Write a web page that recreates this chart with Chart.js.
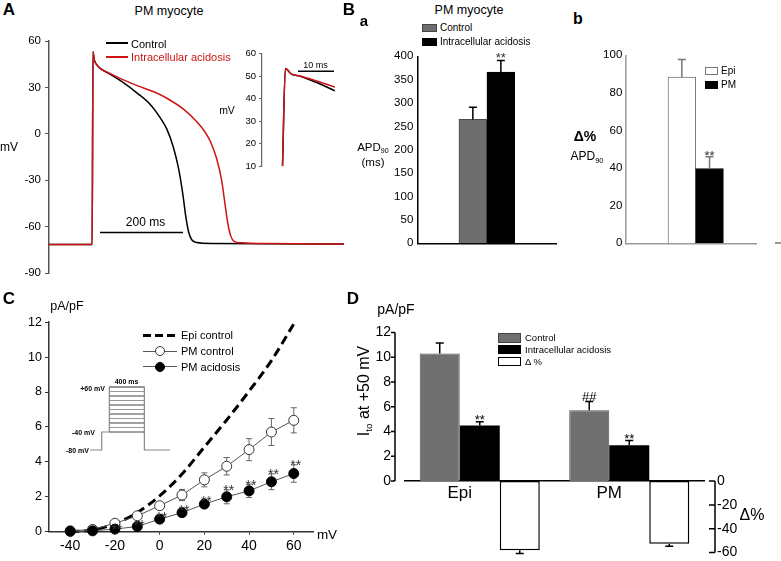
<!DOCTYPE html>
<html><head><meta charset="utf-8"><title>PM myocyte</title>
<script src="https://cdn.jsdelivr.net/npm/chart.js@4.4.1/dist/chart.umd.min.js"></script>
<style>
html,body{margin:0;padding:0;background:#fff;}
body{position:relative;width:781px;height:561px;overflow:hidden;font-family:"Liberation Sans",Arial,Helvetica,sans-serif;color:#000;}
canvas{position:absolute;}
.t{position:absolute;white-space:nowrap;line-height:1;}
.t sub{font-size:62%;vertical-align:baseline;position:relative;top:0.35em;}
.b{position:absolute;box-sizing:border-box;}
</style></head><body>
<script>
// ================= DATA =================
// Panel A: action potentials (time in ms from upstroke, membrane potential in mV)
const apCtrlTime = [-104, 0, 2, 5, 10, 18.5, 40, 70, 110, 140, 165, 180, 195, 208, 218, 226, 233, 240, 252, 290, 607];
const apCtrlVm   = [-71.5, -71.5, 53, 48, 45, 42.5, 39, 34, 26, 19, 10, 3, -8, -22, -38, -54, -64, -68.5, -70.3, -70.9, -71.2];
const apAcidTime = [-104, 0, 2, 5, 10, 18.5, 40, 70, 110, 150, 180, 220, 250, 270, 285, 300, 312, 320, 327, 334, 342, 360, 420, 607];
const apAcidVm   = [-71.5, -71.5, 53, 48, 45, 42.5, 39.3, 35.5, 31, 27, 23, 16, 8.5, 2, -5, -16, -30, -45, -58, -66, -69.5, -70.5, -71, -71.2];
const aTicks = [-90, -60, -30, 0, 30, 60];
const barATime = [19, 219];      // 200 ms scale bar
const barAVm = -63.8;
// Panel A inset (expanded time scale)
const insCtrlTime = [0, 0.8, 2.5, 4.9, 9.5, 14.6];
const insCtrlVm   = [10, 53.4, 50.9, 50.0, 47.2, 43.5];
const insAcidTime = [0, 0.8, 2.5, 4.9, 9.5, 14.6];
const insAcidVm   = [10, 53.4, 50.9, 50.1, 47.9, 45.2];
const insTicks = [10, 20, 30, 40, 50, 60];
const barInsTime = [4.3, 14.3];  // 10 ms scale bar
const barInsVm = 52.2;
// Panel Ba: APD90 (ms)
const apdGroups = ['Control', 'Intracellular acidosis'];
const apdMean = [265, 366];
const apdSem  = [26, 25];
const apdSig  = ['', '**'];
const apdTicks = [0, 50, 100, 150, 200, 250, 300, 350, 400];
// Panel Bb: delta% APD90
const dApdGroups = ['Epi', 'PM'];
const dApdMean = [88.4, 39.8];
const dApdSem  = [9.4, 6.2];
const dApdSig  = ['', '**'];
const dApdTicks = [0, 20, 40, 60, 80, 100];
// Panel C: I-V relation (mV, pA/pF)
const ivVoltage = [-40, -30, -20, -10, 0, 10, 20, 30, 40, 50, 60];
const epiCtrl   = [0, 0.1, 0.45, 1.1, 2.05, 3.3, 4.85, 6.4, 8.05, 9.8, 11.9];
const pmCtrl    = [0.05, 0.13, 0.48, 0.91, 1.49, 2.1, 2.97, 3.75, 4.7, 5.71, 6.38];
const pmCtrlSem = [0.05, 0.05, 0.08, 0.1, 0.15, 0.32, 0.4, 0.5, 0.63, 0.77, 0.72];
const pmAcid    = [0.02, 0.05, 0.15, 0.3, 0.72, 1.09, 1.58, 2.0, 2.34, 2.86, 3.33];
const pmAcidSem = [0.03, 0.03, 0.05, 0.08, 0.12, 0.15, 0.2, 0.4, 0.38, 0.45, 0.5];
const pmAcidSig = ['', '', '**', '**', '**', '**', '**', '**', '**', '**', '**'];
const ivXTicks = [-40, -20, 0, 20, 40, 60];
const ivYTicks = [0, 2, 4, 6, 8, 10, 12];
// Panel C inset: voltage protocol (ms, mV)
const protoOutlineT = [0, 134, 134, 221, 221, 621, 621, 914];
const protoOutlineV = [-80, -80, -40, -40, 60, 60, -80, -80];
const protoStepT = [221, 621];
const protoLevels = [-40, -30, -20, -10, 0, 10, 20, 30, 40, 50, 60];
// Panel D: Ito at +50 mV
const itoGroups = ['Epi', 'PM'];
const itoCtrl    = [10.3, 5.72];
const itoCtrlSem = [0.85, 0.7];
const itoCtrlSig = ['', '##'];
const itoAcid    = [4.48, 2.9];
const itoAcidSem = [0.3, 0.38];
const itoAcidSig = ['**', '**'];
const itoDelta    = [-58.1, -52.5];
const itoDeltaSem = [2.7, 2.2];
const itoTicks   = [0, 2, 4, 6, 8, 10, 12];
const deltaTicks = [0, -20, -40, -60];

// ================= HELPERS =================
const RED = '#cc1414';
const FONT = '"Liberation Sans", Arial, Helvetica, sans-serif';
Chart.defaults.font.family = FONT;
Chart.defaults.color = '#000';

function xy(xs, ys) { return xs.map((x, i) => ({x: x, y: Array.isArray(ys) ? ys[i] : ys})); }
function mk(left, top, w, h) {
  const c = document.createElement('canvas');
  c.width = w; c.height = h;
  c.style.left = left + 'px'; c.style.top = top + 'px';
  c.style.width = w + 'px'; c.style.height = h + 'px';
  document.body.appendChild(c);
  return c;
}
function txt(html, x, y, size, o) {
  o = o || {};
  const d = document.createElement('div');
  d.className = 't';
  d.innerHTML = html;
  d.style.fontSize = size + 'px';
  if (o.bold) d.style.fontWeight = 'bold';
  if (o.color) d.style.color = o.color;
  const ax = o.align === 'left' ? '0' : (o.align === 'right' ? '-100%' : '-50%');
  d.style.left = x + 'px'; d.style.top = y + 'px';
  d.style.transform = 'translate(' + ax + ',-50%)' + (o.rot ? ' rotate(' + o.rot + 'deg)' : '');
  document.body.appendChild(d);
}
function box(x, y, w, h, bg, border, extra) {
  const d = document.createElement('div');
  d.className = 'b';
  d.style.left = x + 'px'; d.style.top = y + 'px';
  d.style.width = w + 'px'; d.style.height = h + 'px';
  if (bg) d.style.background = bg;
  if (border) d.style.border = border;
  if (extra) Object.assign(d.style, extra);
  document.body.appendChild(d);
}
function fixed(arr) { return s => { s.ticks = arr.map(v => ({value: v})); }; }
function opts(pad, scales, plugins) {
  return {
    responsive: false, animation: false, events: [],
    layout: {padding: pad},
    scales: scales,
    plugins: Object.assign({legend: {display: false}, tooltip: {enabled: false}}, plugins || {})
  };
}

function drawErr(chart, o) {
  const ctx = chart.ctx;
  chart.data.datasets.forEach((ds, di) => {
    if (!ds.err) return;
    const meta = chart.getDatasetMeta(di);
    const ys = chart.scales[meta.yAxisID];
    ctx.save();
    ctx.strokeStyle = ds.errColor || o.color;
    ctx.lineWidth = o.width;
    ctx.beginPath();
    meta.data.forEach((el, i) => {
      const e = ds.err[i];
      if (!e) return;
      const raw = ds.data[i];
      const v = (typeof raw === 'object') ? raw.y : raw;
      const dir = v < 0 ? -1 : 1;
      const x = el.x;
      const yEnd = ys.getPixelForValue(v + dir * e);
      const yStart = o.both ? ys.getPixelForValue(v - dir * e) : ys.getPixelForValue(v);
      ctx.moveTo(x, yStart); ctx.lineTo(x, yEnd);
      ctx.moveTo(x - o.cap / 2, yEnd); ctx.lineTo(x + o.cap / 2, yEnd);
      if (o.both) { ctx.moveTo(x - o.cap / 2, yStart); ctx.lineTo(x + o.cap / 2, yStart); }
    });
    ctx.stroke();
    ctx.restore();
  });
}
const errPlugin = {
  id: 'errbars',
  defaults: {layer: 'after', both: false, cap: 8, color: '#000', width: 1.2},
  beforeDatasetsDraw(chart, a, o) { if (o.layer === 'before') drawErr(chart, o); },
  afterDatasetsDraw(chart, a, o) { if (o.layer !== 'before') drawErr(chart, o); }
};
const markPlugin = {
  id: 'marks',
  defaults: {size: 13, color: '#000', gap: 5},
  afterDatasetsDraw(chart, a, o) {
    const ctx = chart.ctx;
    chart.data.datasets.forEach((ds, di) => {
      if (!ds.marks) return;
      const meta = chart.getDatasetMeta(di);
      const ys = chart.scales[meta.yAxisID];
      ctx.save();
      ctx.fillStyle = o.color;
      ctx.font = o.size + 'px ' + FONT;
      ctx.textAlign = 'center';
      ctx.textBaseline = 'alphabetic';
      meta.data.forEach((el, i) => {
        const m = ds.marks[i];
        if (!m) return;
        const raw = ds.data[i];
        const v = (typeof raw === 'object') ? raw.y : raw;
        const e = ds.err ? (ds.err[i] || 0) : 0;
        const yc = ys.getPixelForValue(v + e) - o.gap;
        const yb = yc + (m.indexOf('#') >= 0 ? 0.36 : 0.6) * o.size;
        ctx.fillText(m, el.x + (o.dx || 0), yb);
      });
      ctx.restore();
    });
  }
};
const axisPlugin = {
  id: 'axisLines',
  afterDraw(chart, a, o) {
    if (!o || !o.lines) return;
    const ctx = chart.ctx;
    o.lines.forEach(L => {
      const s = chart.scales[L.scale];
      const x = (L.side === 'left' ? chart.chartArea.left : chart.chartArea.right) + L.offset;
      ctx.save();
      ctx.strokeStyle = L.color; ctx.lineWidth = L.width;
      ctx.beginPath();
      ctx.moveTo(x, s.getPixelForValue(L.from));
      ctx.lineTo(x, s.getPixelForValue(L.to));
      L.ticks.forEach(v => { const y = s.getPixelForValue(v); ctx.moveTo(x, y); ctx.lineTo(x + L.tick, y); });
      ctx.stroke();
      ctx.restore();
    });
  }
};
Chart.register(errPlugin, markPlugin, axisPlugin);

// ================= PANEL A =================
new Chart(mk(0, 30, 350, 255), {
  type: 'line',
  data: {datasets: [
    {label: 'Control', data: xy(apCtrlTime, apCtrlVm), borderColor: '#000', borderWidth: 1.5, pointRadius: 0, cubicInterpolationMode: 'monotone', order: 2},
    {label: 'Intracellular acidosis', data: xy(apAcidTime, apAcidVm), borderColor: RED, borderWidth: 1.5, pointRadius: 0, cubicInterpolationMode: 'monotone', order: 1},
    {label: '200 ms', data: xy(barATime, barAVm), borderColor: '#000', borderWidth: 1.5, pointRadius: 0, order: 0}
  ]},
  options: opts({top: 11, right: 6, bottom: 12, left: 0}, {
    x: {type: 'linear', display: false, min: -104, max: 607},
    y: {type: 'linear', min: -90, max: 60, afterFit: s => { s.width = 49; }, afterBuildTicks: fixed(aTicks),
        ticks: {font: {size: 11.5}, padding: 4, autoSkip: false},
        grid: {drawOnChartArea: false, drawTicks: true, tickLength: 4, color: '#555'},
        border: {color: '#555', width: 1.5}}
  })
});
// Inset
new Chart(mk(225, 45, 120, 130), {
  type: 'line',
  data: {datasets: [
    {data: xy(insCtrlTime, insCtrlVm), borderColor: '#000', borderWidth: 1.5, pointRadius: 0, cubicInterpolationMode: 'monotone', order: 2},
    {data: xy(insAcidTime, insAcidVm), borderColor: RED, borderWidth: 1.5, pointRadius: 0, cubicInterpolationMode: 'monotone', order: 1},
    {data: xy(barInsTime, barInsVm), borderColor: '#000', borderWidth: 1.3, pointRadius: 0, order: 0}
  ]},
  options: opts({top: 8, right: 10, bottom: 8, left: 0}, {
    x: {type: 'linear', display: false, min: -5.7, max: 14.6},
    y: {type: 'linear', position: 'left', display: true, min: 10, max: 60,
        afterFit: s => { s.width = 37; }, afterBuildTicks: fixed(insTicks),
        ticks: {display: true, font: {size: 9.5}, padding: 3, autoSkip: false, color: '#000'},
        grid: {display: true, drawOnChartArea: false, drawTicks: true, tickLength: 3, color: '#666'},
        border: {display: true, color: '#666', width: 1.2}}
  })
});

// ================= PANEL Ba =================
new Chart(mk(355, 45, 205, 210), {
  type: 'bar',
  data: {datasets: [
    {label: apdGroups[0] + ' / ' + apdGroups[1],
     data: apdMean.map((v, i) => ({x: i + 1, y: v})), err: apdSem, marks: apdSig,
     backgroundColor: ['#6e6e6e', '#000'], borderColor: ['#4a4a4a', '#000'], borderWidth: 1, barThickness: 27.8}
  ]},
  options: opts({top: 8.3, right: 3.3, bottom: 11.7, left: 0}, {
    x: {type: 'linear', min: -0.97, max: 3.995, offset: false, z: 1, afterFit: s => { s.height = 0; },
        ticks: {display: false}, grid: {display: false, drawTicks: false}, border: {display: true, color: '#000', width: 1.5}},
    y: {type: 'linear', min: 0, max: 400, afterFit: s => { s.width = 62.7; }, afterBuildTicks: fixed(apdTicks),
        ticks: {font: {size: 11.5}, padding: 4.4, autoSkip: false},
        grid: {display: false, drawTicks: false}, border: {color: '#000', width: 1.5}}
  }, {errbars: {cap: 8, color: '#000', width: 1.5}, marks: {size: 13, color: '#333', gap: 6}})
});

// ================= PANEL Bb =================
new Chart(mk(560, 45, 200, 210), {
  type: 'bar',
  data: {datasets: [
    {label: dApdGroups.join(' / '),
     data: dApdMean.map((v, i) => ({x: i + 1, y: v})), err: dApdSem, marks: dApdSig,
     backgroundColor: ['#fff', '#000'], borderColor: ['#777', '#000'], borderWidth: 1, barThickness: 27.7, errColor: '#777'}
  ]},
  options: opts({top: 8.3, right: 4, bottom: 11.7, left: 0}, {
    x: {type: 'linear', min: -1.027, max: 3.677, offset: false, z: 1, afterFit: s => { s.height = 0; },
        ticks: {display: false}, grid: {display: false, drawTicks: false}, border: {display: true, color: '#999', width: 1.5}},
    y: {type: 'linear', min: 0, max: 100, afterFit: s => { s.width = 65.7; }, afterBuildTicks: fixed(dApdTicks),
        ticks: {font: {size: 11.5}, padding: 3.4, autoSkip: false},
        grid: {display: false, drawTicks: false}, border: {color: '#999', width: 1.5}}
  }, {errbars: {cap: 8, color: '#777', width: 1.5}, marks: {size: 13, color: '#333', gap: 4.3}})
});

// ================= PANEL C =================
new Chart(mk(0, 300, 340, 261), {
  type: 'line',
  data: {datasets: [
    {label: 'Epi control', data: xy(ivVoltage, epiCtrl), borderColor: '#000', borderWidth: 3, borderDash: [9, 5], pointRadius: 0, cubicInterpolationMode: 'monotone', order: 3, clip: false},
    {label: 'PM control', data: xy(ivVoltage, pmCtrl), err: pmCtrlSem, borderColor: '#555', borderWidth: 1, pointRadius: 5, pointBackgroundColor: '#fff', pointBorderColor: '#333', pointBorderWidth: 1, order: 2, clip: false},
    {label: 'PM acidosis', data: xy(ivVoltage, pmAcid), err: pmAcidSem, marks: pmAcidSig, borderColor: '#555', borderWidth: 1, pointRadius: 5, pointBackgroundColor: '#000', pointBorderColor: '#000', pointBorderWidth: 1, order: 1, clip: false}
  ]},
  options: opts({top: 22.2, right: 27, bottom: 0, left: 0}, {
    x: {type: 'linear', min: -49.5, max: 68.6, afterFit: s => { s.height = 29.3; }, afterBuildTicks: fixed(ivXTicks),
        ticks: {font: {size: 14}, padding: 3, autoSkip: false},
        grid: {drawOnChartArea: false, drawTicks: true, tickLength: 3, color: '#333'}, border: {color: '#333', width: 1.5}},
    y: {type: 'linear', min: 0, max: 12, afterFit: s => { s.width = 49; }, afterBuildTicks: fixed(ivYTicks),
        ticks: {font: {size: 12.5}, padding: 3, autoSkip: false},
        grid: {drawOnChartArea: false, drawTicks: true, tickLength: 4, color: '#333'}, border: {color: '#333', width: 1.5}}
  }, {errbars: {layer: 'before', both: true, cap: 6, color: '#666', width: 1}, marks: {size: 14, color: '#333', gap: 3, dx: 2}})
});
// Protocol inset
(function () {
  const ds = [{data: xy(protoOutlineT, protoOutlineV), borderColor: '#888', borderWidth: 1.2, pointRadius: 0, clip: false}];
  protoLevels.forEach((lv, i) => ds.push({data: xy(protoStepT, lv), borderColor: i % 2 ? '#999' : '#444', borderWidth: 1, pointRadius: 0, clip: false}));
  new Chart(mk(86, 383, 88, 71), {
    type: 'line',
    data: {datasets: ds},
    options: opts({top: 4, right: 4, bottom: 4, left: 4}, {
      x: {type: 'linear', display: false, min: 0, max: 914},
      y: {type: 'linear', display: false, min: -80, max: 60}
    })
  });
})();

// ================= PANEL D =================
new Chart(mk(340, 310, 441, 265), {
  type: 'bar',
  data: {labels: itoGroups, datasets: [
    {label: 'Control', data: itoCtrl, err: itoCtrlSem, marks: itoCtrlSig, backgroundColor: '#707070', borderColor: '#555', borderWidth: 1, yAxisID: 'y'},
    {label: 'Intracellular acidosis', data: itoAcid, err: itoAcidSem, marks: itoAcidSig, backgroundColor: '#000', yAxisID: 'y'},
    {label: '\u0394%', data: itoDelta, err: itoDeltaSem, backgroundColor: '#fff', borderColor: '#000', borderWidth: 1.5, borderSkipped: false, yAxisID: 'y2'}
  ]},
  options: Object.assign(opts({top: 13.3, right: 0, bottom: 20.7, left: 0}, {
    x: {type: 'category', position: {y: 0}, z: 1, offset: true,
        ticks: {font: {size: 17}, padding: 2, labelOffset: -20, autoSkip: false},
        grid: {display: false, drawTicks: false}, border: {display: true, color: '#000', width: 1.5}},
    y: {type: 'linear', position: 'left', min: -5.769, max: 12, afterFit: s => { s.width = 65; }, afterBuildTicks: fixed(itoTicks),
        ticks: {font: {size: 14}, padding: 14, autoSkip: false}, grid: {display: false, drawTicks: false}, border: {display: false}},
    y2: {type: 'linear', position: 'right', min: -60, max: 124.8, afterFit: s => { s.width = 77; }, afterBuildTicks: fixed(deltaTicks),
        ticks: {font: {size: 14}, padding: 13, autoSkip: false}, grid: {display: false, drawTicks: false}, border: {display: false}}
  }, {
    errbars: {cap: 8, color: '#000', width: 1.5},
    marks: {size: 13, color: '#000', gap: 5.6},
    axisLines: {lines: [
      {scale: 'y', side: 'left', offset: -10, from: 0, to: 12, ticks: itoTicks, tick: -4, color: '#000', width: 1.5},
      {scale: 'y2', side: 'right', offset: 11, from: 0, to: -60, ticks: deltaTicks, tick: -6, color: '#000', width: 1.5}
    ]}
  }), {datasets: {bar: {barPercentage: 1, categoryPercentage: 0.803}}})
});

// ================= TEXT & LEGENDS =================
// Panel letters
txt('A', 9, 8.5, 17, {bold: true});
txt('B', 349, 8.5, 17, {bold: true});
txt('a', 364, 20, 15, {bold: true});
txt('b', 578, 19, 16, {bold: true});
txt('C', 9, 297.5, 17, {bold: true});
txt('D', 353, 298, 17, {bold: true});
// Panel A
txt('PM myocyte', 169, 11, 12.5);
txt('mV', 0, 147, 12, {align: 'left'});
box(106, 42.3, 22, 2, '#000');
txt('Control', 131, 43.5, 11, {align: 'left'});
box(106, 55.7, 22, 2, RED);
txt('Intracellular acidosis', 131, 57, 11, {align: 'left', color: RED});
txt('200 ms', 145.5, 221.5, 12);
txt('mV', 227, 110, 10.5);
txt('10 ms', 315.5, 65, 9);
// Panel Ba
txt('PM myocyte', 469, 9.5, 12.5);
box(422, 24, 15, 8, '#6e6e6e', '1px solid #444');
txt('Control', 440, 28, 10, {align: 'left'});
box(422, 38, 15, 8, '#000');
txt('Intracellular acidosis', 440, 42, 10, {align: 'left'});
txt('APD<sub>90</sub>', 373, 148, 11.5);
txt('(ms)', 373, 162.5, 11.5);
// Panel Bb
box(705, 66.7, 13, 8.5, '#fff', '1px solid #777');
txt('Epi', 721, 71, 10, {align: 'left'});
box(705, 80.7, 13, 8.5, '#000');
txt('PM', 721, 85, 10, {align: 'left'});
txt('\u0394%', 585, 136, 14, {bold: true});
txt('APD<sub>90</sub>', 587, 156, 12);
box(775, 242.3, 6, 1.5, '#999');
// Panel C
txt('pA/pF', 67, 306, 12.5);
txt('mV', 327, 535, 13.5);
box(143, 333.5, 34, 3, null, null, {background: 'repeating-linear-gradient(90deg,#000 0 8px,transparent 8px 12px)'});
txt('Epi control', 181, 335, 11, {align: 'left'});
box(143, 350.5, 34, 1, '#555');
box(155, 346, 10, 10, '#fff', '1px solid #333', {borderRadius: '50%'});
txt('PM control', 181, 351, 11, {align: 'left'});
box(143, 366.2, 34, 1, '#555');
box(155, 361.7, 10, 10, '#000', '1px solid #000', {borderRadius: '50%'});
txt('PM acidosis', 181, 367, 11, {align: 'left'});
txt('+60 mV', 105, 387.5, 7, {align: 'right', bold: true});
txt('-40 mV', 95, 431.5, 7, {align: 'right', bold: true});
txt('-80 mV', 89, 450, 7, {align: 'right', bold: true});
txt('400 ms', 126.5, 381, 7, {bold: true});
// Panel D
txt('pA/pF', 396, 309, 14);
txt('I<sub>to</sub> at +50 mV', 363.5, 391, 16, {rot: -90});
txt('\u0394%', 752, 515, 16);
box(498, 333, 23, 9.5, '#707070', '1px solid #444');
txt('Control', 525, 338, 9.5, {align: 'left'});
box(498, 344.5, 23, 9.5, '#000');
txt('Intracellular acidosis', 525, 349.5, 9.5, {align: 'left'});
box(498, 356.5, 23, 9.5, '#fff', '1px solid #000');
txt('\u0394 %', 525, 361.5, 9.5, {align: 'left'});
</script>
</body></html>
